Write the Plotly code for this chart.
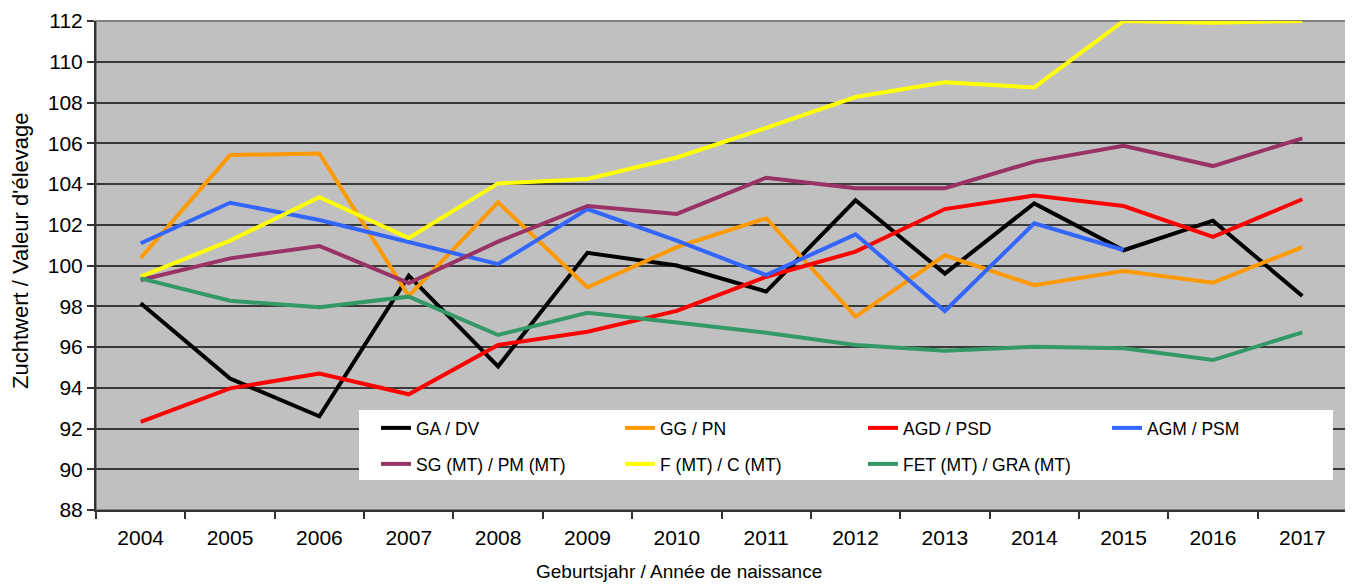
import plotly.graph_objects as go

years = ["2004", "2005", "2006", "2007", "2008", "2009", "2010",
         "2011", "2012", "2013", "2014", "2015", "2016", "2017"]

ga_dv = [98.15, 94.45, 92.6, 99.5, 95.05, 100.62, 100.0, 98.72, 103.2, 99.6, 103.05, 100.75, 102.2, 98.5]
gg_pn = [100.37, 105.42, 105.5, 98.5, 103.1, 98.93, 100.9, 102.32, 97.49, 100.5, 99.03, 99.73, 99.16, 100.9]
agd_psd = [92.32, 93.97, 94.7, 93.68, 96.1, 96.75, 97.77, 99.45, 100.68, 102.77, 103.43, 102.92, 101.41, 103.25]
agm_psm = [101.09, 103.08, 102.23, 101.15, 100.07, 102.77, 101.22, 99.53, 101.53, 97.77, 102.07, 100.76, None, None]
sg_pm = [99.29, 100.35, 100.96, 99.14, 101.17, 102.92, 102.53, 104.31, 103.79, 103.79, 105.1, 105.88, 104.88, 106.24]
f_c = [99.45, 101.22, 103.35, 101.35, 104.03, 104.25, 105.3, 106.75, 108.27, 108.99, 108.74, 112.0, 111.92, 112.0]
fet_gra = [99.37, 98.27, 97.95, 98.47, 96.59, 97.68, 97.2, 96.7, 96.1, 95.82, 96.01, 95.94, 95.36, 96.72]

series_names = ["GA / DV", "GG / PN", "AGD / PSD", "AGM / PSM",
                "SG (MT) / PM (MT)", "F (MT) / C (MT)", "FET (MT) / GRA (MT)"]
series_values = [ga_dv, gg_pn, agd_psd, agm_psm, sg_pm, f_c, fet_gra]
series_colors = ["#000000", "#FF9900", "#FF0000", "#3366FF", "#993366", "#FFFF00", "#339966"]

y_ticks = list(range(88, 113, 2))

FONT = "Liberation Sans, Arial, sans-serif"

# the page body has an 8px margin; size the figure so that the plot lands
# where it is in the 1353x586 window
OFF = 8
PAGE_W, PAGE_H = 1353, 586
W, H = PAGE_W - OFF, PAGE_H - OFF
PLOT_L, PLOT_R, PLOT_T, PLOT_B = 96, 1347, 21, 510   # page pixels
ML, MT = PLOT_L - OFF, PLOT_T - OFF
MR, MB = PAGE_W - PLOT_R, PAGE_H - PLOT_B
PW, PH = PLOT_R - PLOT_L, PLOT_B - PLOT_T


def px_x(px):
    return (px - PLOT_L) / PW


def px_y(py):
    return (PLOT_B - py) / PH


# legend layout: text start x per column, row centre y (page pixels)
col_text_x = [416, 660, 903, 1147]
row_y = [428, 464]

fig = go.Figure()
legend_layouts = {}
for i, (name, vals, col) in enumerate(zip(series_names, series_values, series_colors)):
    lname = "legend" if i == 0 else f"legend{i + 1}"
    fig.add_trace(go.Scatter(
        x=years, y=vals, name=name, mode="lines",
        line=dict(color=col, width=4),
        connectgaps=False,
        legend=lname,
    ))
    r, c = divmod(i, 4)
    legend_layouts[lname] = dict(
        x=px_x(col_text_x[c] - 40), y=px_y(row_y[r]),
        xanchor="left", yanchor="middle",
        bgcolor="rgba(0,0,0,0)", borderwidth=0,
        font=dict(family=FONT, size=17.5, color="#000000"),
        orientation="h",
    )

fig.update_layout(
    width=W, height=H,
    margin=dict(l=ML, r=MR, t=MT, b=MB, autoexpand=False),
    paper_bgcolor="white",
    plot_bgcolor="#C0C0C0",
    font=dict(family=FONT, color="#000000", size=18),
    showlegend=True,
    xaxis=dict(
        type="category",
        range=[-0.5, 13.5],
        tickson="boundaries",
        ticks="outside", ticklen=7, tickcolor="#333333", tickwidth=1.5,
        showline=True, linecolor="#333333", linewidth=2,
        showgrid=False,
        tickfont=dict(family=FONT, size=21),
        ticklabelstandoff=8,
    ),
    yaxis=dict(
        range=[88, 112],
        tickvals=y_ticks,
        ticks="outside", ticklen=7, tickcolor="#333333", tickwidth=1.5,
        showline=True, linecolor="#333333", linewidth=2,
        showgrid=True, gridcolor="#3a3a3a", gridwidth=1.5,
        zeroline=False,
        tickfont=dict(family=FONT, size=21),
    ),
    **legend_layouts,
)

# grey plot-area frame (top and right edges)
fig.add_shape(type="rect", xref="paper", yref="paper", x0=0, x1=1, y0=0, y1=1,
              line=dict(color="#808080", width=2), layer="below")
# white legend box
fig.add_shape(type="rect", xref="paper", yref="paper",
              x0=px_x(359), x1=px_x(1333), y0=px_y(480), y1=px_y(410),
              fillcolor="white", line=dict(width=0), layer="above")

# axis titles
fig.add_annotation(text="Geburtsjahr / Année de naissance", xref="paper", yref="paper",
                   x=px_x(679), y=px_y(571), xanchor="center", yanchor="middle",
                   showarrow=False, font=dict(family=FONT, size=19))
fig.add_annotation(text="Zuchtwert / Valeur d'élevage", xref="paper", yref="paper",
                   x=px_x(20), y=px_y(251), xanchor="center", yanchor="middle",
                   textangle=-90, showarrow=False, font=dict(family=FONT, size=22))

fig.write_html("out.html")
